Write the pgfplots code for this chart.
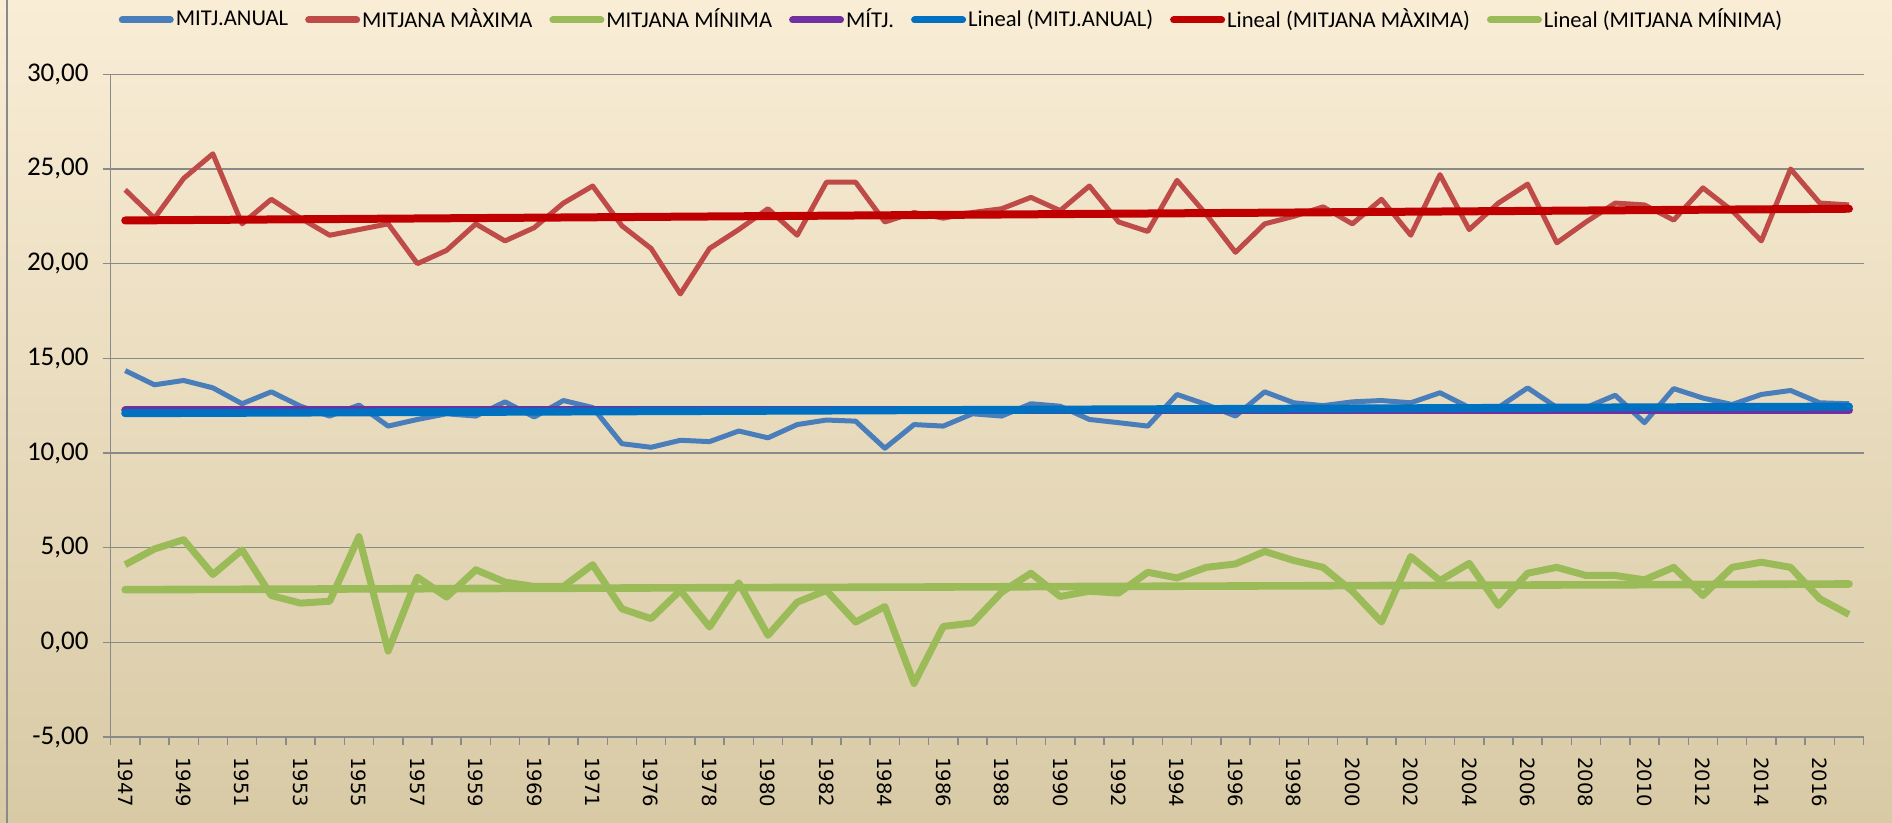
\documentclass[border=0pt]{standalone}
\usepackage{pgfplots}
\pgfplotsset{compat=1.18}
\usepackage{pgfplotstable}
\usepackage{fontspec}
\setmainfont{Carlito}
\newfontfamily\dejavu{DejaVu Sans}
\definecolor{bgtop}{RGB}{249,237,214}
\definecolor{bgbot}{RGB}{216,202,165}
\definecolor{axgray}{RGB}{138,138,138}
\definecolor{cAnual}{HTML}{4A7EBB}
\definecolor{cMax}{HTML}{BE4B48}
\definecolor{cMin}{HTML}{9BBB59}
\definecolor{cMitj}{HTML}{7030A0}
\definecolor{cTAnual}{HTML}{0070C0}
\definecolor{cTMax}{HTML}{C00000}
\definecolor{cTMin}{HTML}{9BBB59}

\pgfplotstableread{
x anual maxima minima
0 14.35 23.9 4.10
1 13.60 22.4 4.93
2 13.83 24.5 5.42
3 13.44 25.8 3.58
4 12.60 22.1 4.88
5 13.23 23.4 2.47
6 12.47 22.4 2.07
7 11.95 21.5 2.17
8 12.53 21.8 5.58
9 11.42 22.1 -0.46
10 11.77 20.0 3.44
11 12.07 20.7 2.39
12 11.95 22.1 3.83
13 12.70 21.2 3.18
14 11.90 21.9 2.95
15 12.77 23.2 2.95
16 12.40 24.1 4.10
17 10.49 22.0 1.77
18 10.30 20.8 1.25
19 10.67 18.4 2.74
20 10.60 20.8 0.81
21 11.16 21.8 3.14
22 10.80 22.9 0.37
23 11.50 21.5 2.12
24 11.74 24.3 2.74
25 11.68 24.3 1.07
26 10.25 22.2 1.89
27 11.50 22.7 -2.17
28 11.42 22.4 0.84
29 12.07 22.7 1.02
30 11.95 22.9 2.65
31 12.60 23.5 3.65
32 12.47 22.8 2.42
33 11.77 24.1 2.70
34 11.60 22.2 2.60
35 11.42 21.7 3.70
36 13.09 24.4 3.40
37 12.56 22.6 3.96
38 11.95 20.6 4.14
39 13.23 22.1 4.80
40 12.65 22.5 4.32
41 12.50 23.0 3.96
42 12.70 22.1 2.70
43 12.77 23.4 1.07
44 12.65 21.5 4.53
45 13.18 24.7 3.26
46 12.40 21.8 4.17
47 12.40 23.2 1.95
48 13.44 24.2 3.65
49 12.40 21.1 3.96
50 12.40 22.2 3.53
51 13.05 23.2 3.53
52 11.60 23.1 3.30
53 13.40 22.3 3.96
54 12.90 24.0 2.47
55 12.56 22.8 3.96
56 13.09 21.2 4.23
57 13.30 25.0 3.96
58 12.65 23.2 2.30
59 12.60 23.1 1.47
}\data

\begin{document}
\begin{tikzpicture}
\shade[top color=bgtop, bottom color=bgbot] (0,0) rectangle (946pt,411.5pt);
\path[use as bounding box] (0,0) rectangle (946pt,411.5pt);
\draw[axgray, line width=0.8pt] (3.5pt,0) -- (3.5pt,411.5pt);
\begin{axis}[
  scale only axis,
  width=876.5pt, height=331.35pt,
  at={(55.3pt,43pt)}, anchor=south west,
  xmin=-0.5, xmax=59.5, ymin=-5, ymax=30,
  axis x line*=bottom, axis y line*=left,
  axis line style={color=axgray, line width=0.75pt},
  ytick={-5,0,5,10,15,20,25,30},
  yticklabels={{-5,00},{0,00},{5,00},{10,00},{15,00},{20,00},{25,00},{30,00}},
  ymajorgrids,
  grid style={color=axgray, line width=0.7pt},
  xtick={-0.5,0.5,...,59.5},
  xticklabel={\phantom{0}},
  extra x ticks={0,2,...,58},
  extra x tick labels={1947,1949,1951,1953,1955,1957,1959,1969,1971,1976,1978,1980,1982,1984,1986,1988,1990,1992,1994,1996,1998,2000,2002,2004,2006,2008,2010,2012,2014,2016},
  extra x tick style={major tick length=0pt, grid=none,
     xticklabel style={xshift=6.6pt}},
  tick align=outside,
  major tick length=4pt,
  tick style={color=axgray, line width=0.75pt},
  yticklabel style={font=\fontsize{13.5}{16}\selectfont, xshift=-3.5pt},
  xticklabel style={font=\dejavu\fontsize{9.8}{12}\selectfont, rotate=-90, anchor=west},
  clip=false,
  legend columns=7,
  legend style={at={(0.4797,1.082)}, anchor=center, draw=none, fill=none,
    font=\fontsize{11.3}{13}\selectfont,
    /tikz/every even column/.append style={column sep=7.5pt},
    nodes={inner xsep=1pt, inner ysep=1pt}},
  legend image code/.code={\draw[#1,line width=3.5pt,line cap=round] (0pt,0pt) -- (24pt,0pt);},
  line join=round,
]
\addplot[color=cAnual, line width=2.5pt] table[x=x,y=anual] {\data};
\addlegendentry{MITJ.ANUAL}
\addplot[color=cMax, line width=2.5pt] table[x=x,y=maxima] {\data};
\addlegendentry{MITJANA MÀXIMA}
\addplot[color=cMin, line width=3.5pt] table[x=x,y=minima] {\data};
\addlegendentry{MITJANA MÍNIMA}
\addplot[color=cMitj, line width=4pt, line cap=round] coordinates {(0,12.25) (59,12.25)};
\addlegendentry{MÍTJ.}
\addplot[color=cTAnual, line width=4pt, line cap=round] coordinates {(0,12.1) (59,12.45)};
\addlegendentry{Lineal (MITJ.ANUAL)}
\addplot[color=cTMax, line width=4pt, line cap=round] coordinates {(0,22.28) (59,22.9)};
\addlegendentry{Lineal (MITJANA MÀXIMA)}
\addplot[color=cTMin, line width=3.8pt, line cap=round] coordinates {(0,2.78) (59,3.08)};
\addlegendentry{Lineal (MITJANA MÍNIMA)}
\end{axis}
\end{tikzpicture}
\end{document}
